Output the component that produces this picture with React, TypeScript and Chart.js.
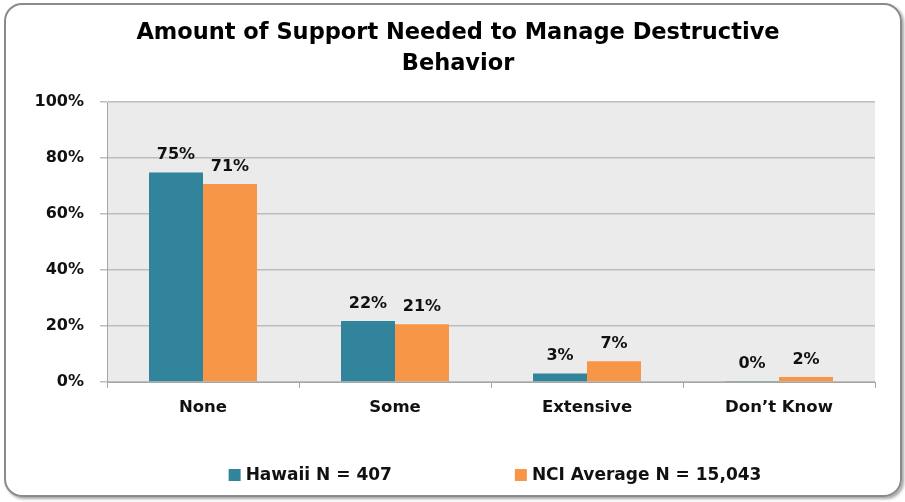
import React, { useEffect, useRef } from "react";
import { Chart, registerables } from "chart.js";

Chart.register(...registerables);

const categories = ["None", "Some", "Extensive", "Don\u2019t Know"];
const hawaiiValues = [74.8, 21.8, 3.0, 0.4];
const nciValues = [70.7, 20.6, 7.4, 1.8];
const seriesNames = ["Hawaii N = 407", "NCI Average N = 15,043"];
const titleLines = ["Amount of Support Needed to Manage Destructive", "Behavior"];
const yTicks = [0, 20, 40, 60, 80, 100];

const FONT = '"DejaVu Sans", sans-serif';
const TEAL = "#31849B";
const ORANGE = "#F79646";

const plotBg = {
  id: "plotBg",
  beforeDraw(chart: any) {
    const { ctx, chartArea } = chart;
    ctx.save();
    ctx.fillStyle = "#EBEBEB";
    ctx.fillRect(chartArea.left, chartArea.top, chartArea.right - chartArea.left, chartArea.bottom - chartArea.top);
    ctx.restore();
  },
};

const customTitle = {
  id: "customTitle",
  afterDraw(chart: any) {
    const { ctx } = chart;
    ctx.save();
    ctx.font = `bold 22.5px ${FONT}`;
    ctx.fillStyle = "#000";
    ctx.textAlign = "center";
    ctx.textBaseline = "middle";
    titleLines.forEach((line, i) => {
      ctx.fillText(line, 458, 33 + i * 31);
    });
    ctx.restore();
  },
};

const dataLabels = {
  id: "dataLabels",
  afterDatasetsDraw(chart: any) {
    const { ctx } = chart;
    ctx.save();
    ctx.font = `bold 16px ${FONT}`;
    ctx.fillStyle = "#111";
    ctx.textAlign = "center";
    ctx.textBaseline = "middle";
    chart.data.datasets.forEach((ds: any, i: number) => {
      const meta = chart.getDatasetMeta(i);
      meta.data.forEach((el: any, j: number) => {
        ctx.fillText(Math.round(ds.data[j]) + "%", el.x, el.y - 17.5);
      });
    });
    ctx.restore();
  },
};

const customLegend = {
  id: "customLegend",
  afterDraw(chart: any) {
    const { ctx } = chart;
    ctx.save();
    ctx.font = `bold 17px ${FONT}`;
    ctx.textBaseline = "middle";
    ctx.textAlign = "left";
    const box = 12;
    const boxGap = 5;
    const itemGap = 123;
    const items = chart.data.datasets.map((ds: any) => ({
      label: ds.label,
      color: ds.backgroundColor,
      w: box + boxGap + ctx.measureText(ds.label).width,
    }));
    const total = items.reduce((s: number, it: any) => s + it.w, 0) + itemGap * (items.length - 1);
    let x = 495 - total / 2;
    const y = 475;
    items.forEach((it: any) => {
      ctx.fillStyle = it.color;
      ctx.fillRect(x, y - box / 2, box, box);
      ctx.fillStyle = "#111";
      ctx.fillText(it.label, x + box + boxGap, y + 1);
      x += it.w + itemGap;
    });
    ctx.restore();
  },
};

export default function App() {
  const ref = useRef<HTMLCanvasElement | null>(null);

  useEffect(() => {
    if (!ref.current) return;
    const chart = new Chart(ref.current, {
      type: "bar",
      data: {
        labels: categories,
        datasets: [
          {
            label: seriesNames[0],
            data: hawaiiValues,
            backgroundColor: TEAL,
            borderWidth: 0,
            categoryPercentage: 0.5625,
            barPercentage: 1.0,
          },
          {
            label: seriesNames[1],
            data: nciValues,
            backgroundColor: ORANGE,
            borderWidth: 0,
            categoryPercentage: 0.5625,
            barPercentage: 1.0,
          },
        ],
      },
      options: {
        animation: false,
        responsive: false,
        maintainAspectRatio: false,
        devicePixelRatio: 1,
        layout: { padding: { left: 20, right: 30, top: 102, bottom: 84 } },
        plugins: {
          legend: { display: false },
          tooltip: { enabled: false },
          title: { display: false },
        },
        scales: {
          x: {
            afterFit(scale: any) {
              scale.height = 36;
            },
            grid: { drawOnChartArea: false, drawTicks: true, tickLength: 6, color: "#A6A6A6", offset: true },
            border: { color: "#A6A6A6", width: 1 },
            ticks: { color: "#111", font: { family: FONT, size: 16.5, weight: "bold" }, padding: 10 },
          },
          y: {
            min: 0,
            max: 100,
            afterFit(scale: any) {
              scale.width = 87;
            },
            afterBuildTicks(scale: any) {
              scale.ticks = yTicks.map((v) => ({ value: v }));
            },
            grid: { color: "#BDBDBD", lineWidth: 1.5, tickLength: 7, drawTicks: true },
            border: { color: "#A6A6A6", width: 1 },
            ticks: {
              color: "#111",
              font: { family: FONT, size: 16, weight: "bold" },
              padding: 16,
              callback: (v: any) => v + "%",
            },
          },
        },
      },
      plugins: [plotBg, dataLabels, customTitle, customLegend],
    });
    return () => chart.destroy();
  }, []);

  return (
    <div style={{ position: "fixed", left: 0, top: 0, width: 905, height: 502, background: "#fff" }}>
      <canvas ref={ref} width={905} height={502} style={{ position: "absolute", left: 0, top: 0, width: 905, height: 502 }} />
      <div
        style={{
          position: "absolute",
          left: 4,
          top: 3,
          width: 898,
          height: 494,
          boxSizing: "border-box",
          border: "2px solid #8A8A8A",
          borderRadius: 18,
          boxShadow: "2px 2px 3px rgba(0,0,0,0.35)",
          pointerEvents: "none",
        }}
      />
    </div>
  );
}
